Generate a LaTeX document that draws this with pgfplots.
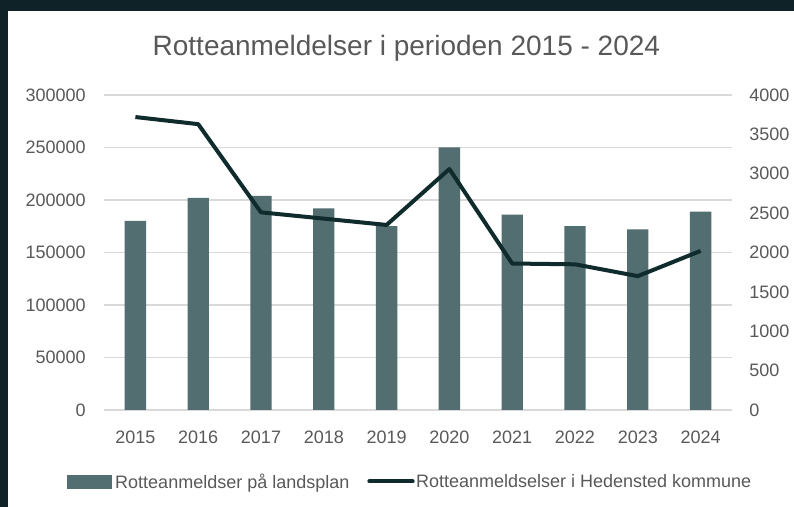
\documentclass[border=0pt]{standalone}
\usepackage{fontspec}
\setmainfont{Liberation Sans}
\usepackage{pgfplots}
\pgfplotsset{compat=1.18}
\definecolor{barcol}{HTML}{526E70}
\definecolor{linecol}{HTML}{0F2B2C}
\definecolor{framecol}{HTML}{0F2228}
\definecolor{txt}{HTML}{595959}
\definecolor{gridcol}{HTML}{D9D9D9}
\begin{document}
\begin{tikzpicture}
\useasboundingbox (0,0) rectangle (595.5pt,380.25pt);
\fill[framecol] (0,0) rectangle (595.5pt,380.25pt);
\fill[white] (6.25pt,0) rectangle (595.5pt,372pt);
\node[txt, font=\fontsize{21}{25}\selectfont, anchor=base, inner sep=0pt] at (304.8pt,338.5pt) {Rotteanmeldelser i perioden 2015 - 2024};
\begin{axis}[
  at={(78pt,72.75pt)}, anchor=south west, scale only axis,
  width=471pt, height=236.25pt,
  xmin=-0.5, xmax=9.5, ymin=0, ymax=300000,
  ytick={0,50000,100000,150000,200000,250000,300000},
  xtick={0,1,2,3,4,5,6,7,8,9},
  xticklabels={2015,2016,2017,2018,2019,2020,2021,2022,2023,2024},
  axis line style={draw=none},
  tick style={draw=none}, major tick length=0pt,
  ymajorgrids, grid style={gridcol, line width=0.9pt},
  ybar, bar width=16pt,
  tick label style={txt, font=\fontsize{13.5}{16}\selectfont},
  /pgf/number format/fixed,
  /pgf/number format/assume math mode=true,
  /pgf/number format/1000 sep={},
  scaled y ticks=false,
  yticklabel style={anchor=east, inner sep=0pt, xshift=-13.5pt},
  xticklabel style={anchor=base, inner sep=0pt, yshift=-25.5pt},
]
\addplot[fill=barcol, draw=none] coordinates {
 (0,180000) (1,202000) (2,204000) (3,192000) (4,175000)
 (5,250000) (6,186000) (7,175000) (8,172000) (9,189000)};
\end{axis}
\begin{axis}[
  at={(78pt,72.75pt)}, anchor=south west, scale only axis,
  width=471pt, height=236.25pt,
  xmin=-0.5, xmax=9.5, ymin=0, ymax=4000,
  ytick={0,500,1000,1500,2000,2500,3000,3500,4000},
  xtick=\empty,
  axis y line*=right, axis x line=none,
  axis line style={draw=none},
  tick style={draw=none}, major tick length=0pt,
  tick label style={txt, font=\fontsize{13.5}{16}\selectfont},
  /pgf/number format/fixed,
  /pgf/number format/assume math mode=true,
  /pgf/number format/1000 sep={},
  scaled y ticks=false,
  yticklabel style={anchor=west, inner sep=0pt, xshift=12.75pt},
  legend columns=2,
  legend style={at={(-0.0594,-0.2286)}, anchor=west, draw=none, fill=none,
    inner sep=0pt, outer sep=0pt,
    nodes={inner sep=0pt, text=txt, font=\fontsize{13.5}{16}\selectfont},
    /tikz/every even column/.append style={column sep=12pt}},
]
\addlegendimage{legend image code/.code={\fill[barcol] (0pt,-4.5pt) rectangle (33pt,5.25pt); \path (36pt,0pt);}}
\addlegendentry{Rotteanmeldser på landsplan}
\addplot[linecol, line width=3pt, line join=round, mark=none,
  legend image code/.code={\draw[linecol, line width=3pt, line cap=round] (1.5pt,0.4pt) -- (34pt,0.4pt); \path (0pt,0pt) (35pt,0pt);}] coordinates {
 (0,3720) (1,3630) (2,2510) (3,2430) (4,2350)
 (5,3060) (6,1860) (7,1850) (8,1700) (9,2020)};
\addlegendentry{Rotteanmeldselser i Hedensted kommune}
\end{axis}
\end{tikzpicture}
\end{document}
